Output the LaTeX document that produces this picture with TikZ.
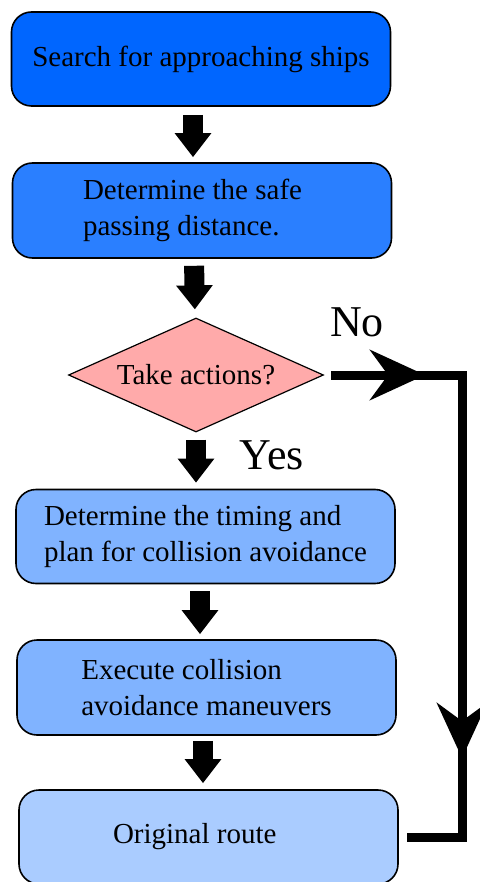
\documentclass[tikz,border=0pt]{standalone}
\usepackage{fontspec}
\setmainfont{Liberation Serif}
\usetikzlibrary{shapes.geometric,arrows.meta,decorations.markings}
\definecolor{searchFill}{HTML}{0066FF}
\definecolor{safeFill}{HTML}{2A7FFF}
\definecolor{planFill}{HTML}{80B3FF}
\definecolor{routeFill}{HTML}{AACCFF}
\definecolor{actFill}{HTML}{FFAAAA}
\begin{document}
\begin{tikzpicture}[x=1pt, y=-1pt]
% Flowchart: collision avoidance between ships
\def\boxwd{379pt}
\def\boxht{94pt}
\providecommand{\flowBorderWidth}{1.6pt}
\providecommand{\flowCornerRadius}{20pt}
\providecommand{\flowFont}{\fontsize{29}{36}\selectfont}
\tikzset{
  flowbox/.style={draw=black, line width=\flowBorderWidth, rounded corners=\flowCornerRadius,
    minimum width=\boxwd, minimum height=\boxht, inner sep=0pt, font=\flowFont, align=flush left},
  flowdecision/.style={diamond, draw=black, line width=1.2pt, fill=actFill, aspect=2.24,
    minimum width=255pt, minimum height=114pt, inner sep=0pt, font=\flowFont},
  blockarrow/.style={line width=20pt, -{Triangle[length=24pt,width=35pt]}},
  nopath/.style={line width=9pt, line join=miter,
    decoration={markings,
      mark=at position 101pt with {\arrow{Stealth[length=55pt,width=50pt,inset=18pt]}},
      mark=at position 521pt with {\arrow{Stealth[length=55pt,width=50pt,inset=18pt]}}},
    postaction={decorate}},
  branchlabel/.style={font=\fontsize{44}{44}\selectfont, inner sep=0pt}
}
\useasboundingbox (0,0) rectangle (479,882);
% Boxes
\node[flowbox, fill=searchFill] (search) at (201,59) {Search for approaching ships};
\node[flowbox, fill=safeFill, minimum height=95pt, text width=238pt] (safe) at (202,210.5) {Determine the safe\\passing distance.};
\node[flowdecision] (act) at (196,375) {Take actions?};
\node[flowbox, fill=planFill] (plan) at (205.5,536.5) {Determine the timing and\\plan for collision avoidance};
\node[flowbox, fill=planFill, minimum height=95pt] (maneuver) at (206.5,687.5) {Execute collision\\avoidance maneuvers};
\node[flowbox, fill=routeFill, text width=191pt] (route) at (208.5,837) {Original route};
% Branch labels
\node[branchlabel] (no) at (357,322) {No};
\node[branchlabel] (yes) at (272,455) {Yes};
% Main flow
\draw[blockarrow, shorten <=8pt, shorten >=5pt] ([xshift=-8pt]search.south) -- ([xshift=-9pt]safe.north);
\draw[blockarrow, shorten <=7pt, shorten >=8pt] ([xshift=-8pt]safe.south) -- ([xshift=-1pt]act.north);
\draw[blockarrow, shorten <=7pt, shorten >=6pt] (act.south) -- ([xshift=-9.5pt]plan.north);
\draw[blockarrow, shorten <=7pt, shorten >=5pt] ([xshift=-5.5pt]plan.south) -- ([xshift=-6.5pt]maneuver.north);
\draw[blockarrow, shorten <=5pt, shorten >=6pt] ([xshift=-3.5pt]maneuver.south) -- ([xshift=-5.5pt]route.north);
% No branch back to the route
\coordinate (turn) at (462,375);
\draw[nopath, shorten <=7pt, shorten >=8pt] (act.east) -- (turn) |- (route.east);
\end{tikzpicture}
\end{document}
